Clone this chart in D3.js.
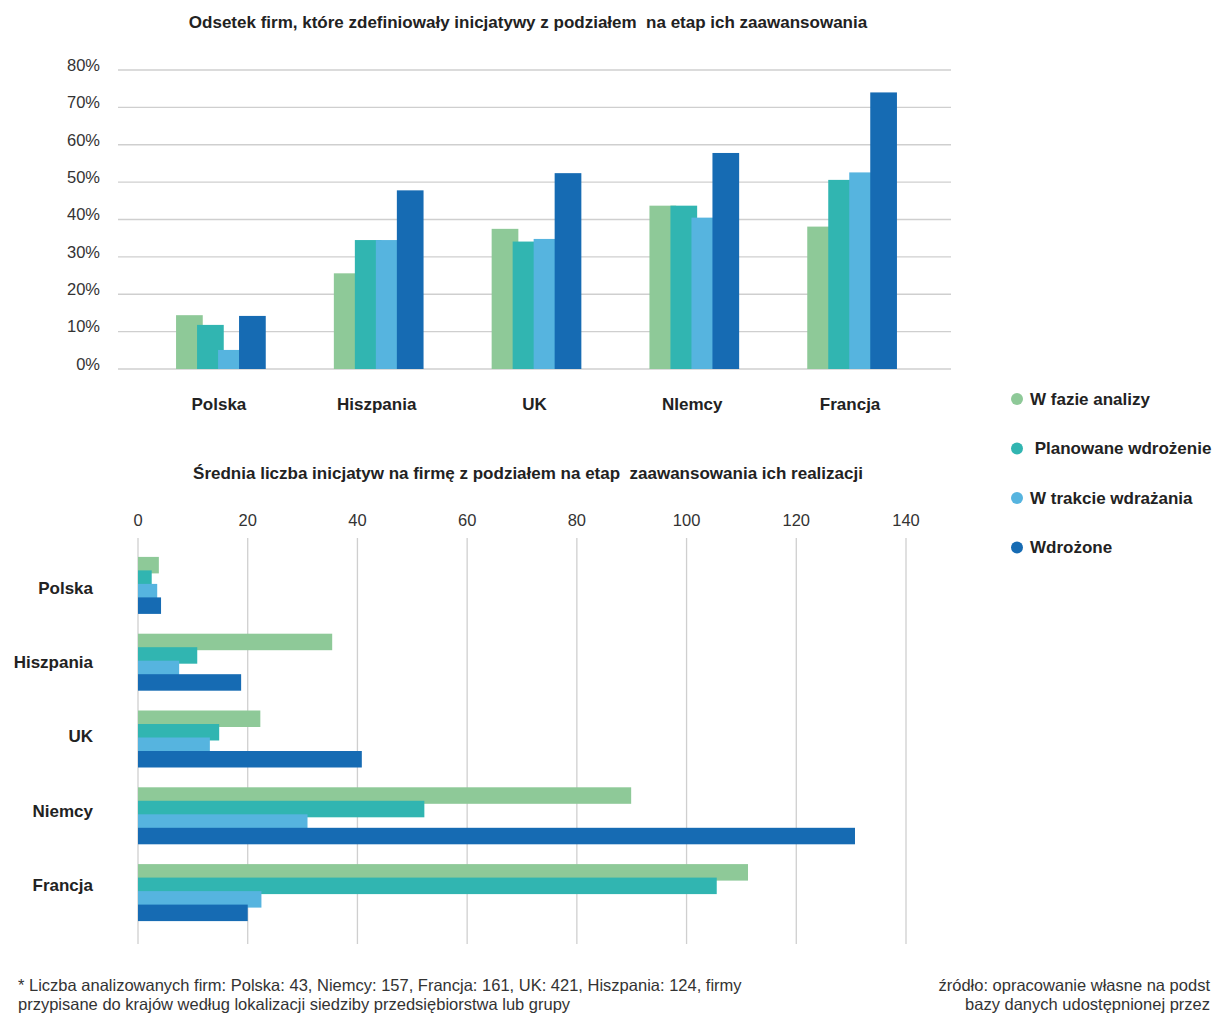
<!DOCTYPE html>
<html>
<head>
<meta charset="utf-8">
<script src="https://cdn.jsdelivr.net/npm/d3@7"></script>
<style>
  body { margin: 0; background: #fff; }
  svg { display: block; font-family: "Liberation Sans", Arial, sans-serif; }
  text { white-space: pre; }
</style>
</head>
<body>
<div id="chart"></div>
<script>
// data
var countries = ["Polska", "Hiszpania", "UK", "Niemcy", "Francja"];
var topLabels = ["Polska", "Hiszpania", "UK", "NIemcy", "Francja"];
var stages = ["W fazie analizy", " Planowane wdrożenie", "W trakcie wdrażania", "Wdrożone"];
var colors = ["#8ec998", "#31b5b1", "#56b4df", "#166bb3"];

// share of firms (%), one array per stage, in country order
var shareAnalysis = [14.4, 25.6, 37.5, 43.7, 38.1];
var sharePlanned  = [11.8, 34.5, 34.1, 43.7, 50.6];
var shareOngoing  = [5.1, 34.5, 34.8, 40.5, 52.6];
var shareDone     = [14.2, 47.8, 52.4, 57.8, 74.0];

// average number of initiatives per firm
var avgAnalysis = [3.8, 35.4, 22.3, 89.9, 111.2];
var avgPlanned  = [2.5, 10.8, 14.8, 52.2, 105.5];
var avgOngoing  = [3.5, 7.5, 13.1, 30.9, 22.5];
var avgDone     = [4.2, 18.8, 40.8, 130.7, 20.0];

var pctTicks = [0, 10, 20, 30, 40, 50, 60, 70, 80];
var numTicks = [0, 20, 40, 60, 80, 100, 120, 140];

var title1 = "Odsetek firm, które zdefiniowały inicjatywy z podziałem  na etap ich zaawansowania";
var title2 = "Średnia liczba inicjatyw na firmę z podziałem na etap  zaawansowania ich realizacji";
var note1 = "* Liczba analizowanych firm: Polska: 43, Niemcy: 157, Francja: 161, UK: 421, Hiszpania: 124, firmy";
var note2 = "przypisane do krajów według lokalizacji siedziby przedsiębiorstwa lub grupy";
var src1 = "źródło: opracowanie własne na podst";
var src2 = "bazy danych udostępnionej przez";

var shareSeries = [shareAnalysis, sharePlanned, shareOngoing, shareDone];
var avgSeries = [avgAnalysis, avgPlanned, avgOngoing, avgDone];

var W = 1213, H = 1013;
var svg = d3.select("#chart").append("svg")
  .attr("width", W)
  .attr("height", H)
  .attr("viewBox", `0 0 ${W} ${H}`);

var ink = "#222";
var grid = "#cfcfcf";

// ---------- top chart: vertical grouped bars ----------

svg.append("text")
  .attr("x", 528).attr("y", 28)
  .attr("text-anchor", "middle")
  .style("font-size", "17px").style("font-weight", "bold")
  .style("fill", ink)
  .text(title1);

var y = d3.scaleLinear().domain([0, 80]).range([369, 70]);
var x = d3.scaleBand().domain(countries).range([142, 931]);

var topG = svg.append("g");

topG.selectAll("line.grid")
  .data(pctTicks)
  .join("line")
    .attr("class", "grid")
    .attr("x1", 118).attr("x2", 951)
    .attr("y1", d => y(d)).attr("y2", d => y(d))
    .style("stroke", grid).style("stroke-width", 1.3);

topG.selectAll("text.ytick")
  .data(pctTicks)
  .join("text")
    .attr("class", "ytick")
    .attr("x", 100).attr("y", d => y(d) - 5)
    .attr("dy", "0.35em")
    .attr("text-anchor", "end")
    .style("font-size", "16.5px").style("fill", "#333")
    .text(d => d + "%");

// bars overlap a little, later series drawn on top
var step1 = 21, barW1 = 26.7, groupW1 = 3 * step1 + barW1;

shareSeries.forEach(function(vals, i) {
  topG.selectAll("rect.s" + i)
    .data(vals)
    .join("rect")
      .attr("class", "s" + i)
      .attr("x", (d, j) => x(countries[j]) + x.bandwidth() / 2 - groupW1 / 2 + i * step1)
      .attr("width", barW1)
      .attr("y", d => y(d))
      .attr("height", d => y(0) - y(d))
      .style("fill", colors[i]);
});

topG.selectAll("text.xcat")
  .data(countries)
  .join("text")
    .attr("class", "xcat")
    .attr("x", d => x(d) + x.bandwidth() / 2 - 2)
    .attr("y", 410)
    .attr("text-anchor", "middle")
    .style("font-size", "17px").style("font-weight", "bold")
    .style("fill", ink)
    .text((d, i) => topLabels[i]);

// ---------- legend ----------

var legend = svg.append("g")
  .selectAll("g")
  .data(stages)
  .join("g")
    .attr("transform", (d, i) => `translate(1017,${399 + i * 49.5})`);

legend.append("circle")
  .attr("r", 6)
  .style("fill", (d, i) => colors[i]);

legend.append("text")
  .attr("x", 13)
  .attr("dy", "0.35em")
  .style("font-size", "17px").style("font-weight", "bold")
  .style("fill", ink)
  .text(d => d);

// ---------- bottom chart: horizontal grouped bars ----------

svg.append("text")
  .attr("x", 528).attr("y", 479)
  .attr("text-anchor", "middle")
  .style("font-size", "17px").style("font-weight", "bold")
  .style("fill", ink)
  .text(title2);

var xs = d3.scaleLinear().domain([0, 140]).range([138, 906]);
var ys = d3.scaleBand().domain(countries).range([547, 931]);
var yl = d3.scalePoint().domain(countries).range([588, 885]);

var botG = svg.append("g");

botG.selectAll("line.vgrid")
  .data(numTicks)
  .join("line")
    .attr("class", "vgrid")
    .attr("x1", d => xs(d)).attr("x2", d => xs(d))
    .attr("y1", 538).attr("y2", 944)
    .style("stroke", grid).style("stroke-width", 1.3);

botG.selectAll("text.xtick")
  .data(numTicks)
  .join("text")
    .attr("class", "xtick")
    .attr("x", d => xs(d)).attr("y", 526)
    .attr("text-anchor", "middle")
    .style("font-size", "16.5px").style("fill", "#333")
    .text(d => d);

var step2 = 13.5, barH2 = 16.5, groupH2 = 3 * step2 + barH2;

avgSeries.forEach(function(vals, i) {
  botG.selectAll("rect.h" + i)
    .data(vals)
    .join("rect")
      .attr("class", "h" + i)
      .attr("x", xs(0))
      .attr("width", d => xs(d) - xs(0))
      .attr("y", (d, j) => ys(countries[j]) + ys.bandwidth() / 2 - groupH2 / 2 + i * step2)
      .attr("height", barH2)
      .style("fill", colors[i]);
});

botG.selectAll("text.ycat")
  .data(countries)
  .join("text")
    .attr("class", "ycat")
    .attr("x", 93)
    .attr("y", d => yl(d))
    .attr("dy", "0.35em")
    .attr("text-anchor", "end")
    .style("font-size", "17px").style("font-weight", "bold")
    .style("fill", ink)
    .text(d => d);

// ---------- notes ----------

var notes = svg.append("g")
  .style("font-size", "16.5px").style("fill", "#333");

notes.append("text").attr("x", 18).attr("y", 991).text(note1);
notes.append("text").attr("x", 18).attr("y", 1010).text(note2);
notes.append("text").attr("x", 1210).attr("y", 991).attr("text-anchor", "end").text(src1);
notes.append("text").attr("x", 1210).attr("y", 1010).attr("text-anchor", "end").text(src2);
</script>
</body>
</html>
